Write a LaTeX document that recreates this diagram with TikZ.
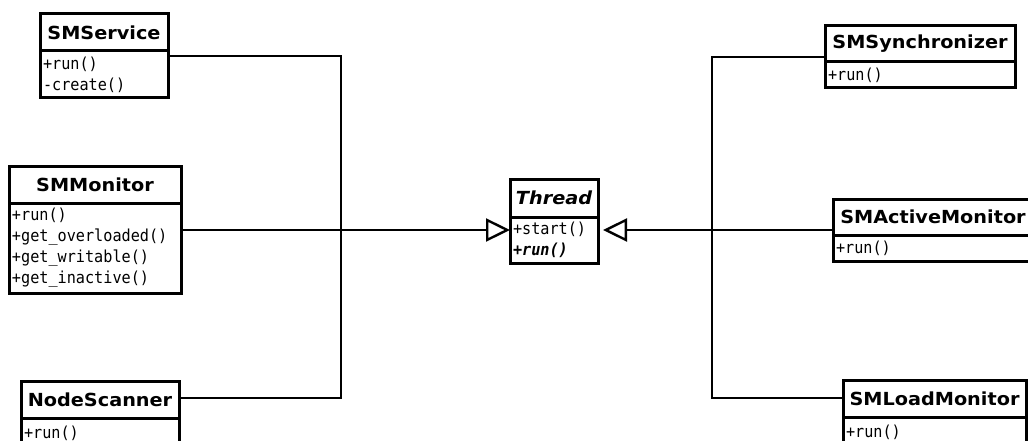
\documentclass[tikz,border=0pt]{standalone}
\usepackage{fontspec}
\newfontfamily\classfont{DejaVu Sans}[FakeStretch=1.07]
\newfontfamily\opsfont{DejaVu Sans Mono}[FakeStretch=0.92]
\usetikzlibrary{arrows.meta, positioning}

\begin{document}
\begin{tikzpicture}[x=1pt, y=-1pt]
  \tikzset{
    hnode/.style={rectangle, draw=black, line width=3pt, outer sep=0pt, inner sep=0pt,
                  minimum height=37pt, text centered, anchor=north west,
                  font=\classfont\bfseries\fontsize{18}{20}\selectfont},
    onode/.style={rectangle, draw=black, line width=3pt, outer sep=0pt,
                  inner xsep=3pt, inner ysep=0pt, align=left,
                  font=\opsfont\fontsize{16.5}{21}\selectfont},
    conn/.style={line width=2.4pt},
    inh/.style={line width=2.4pt, -{Triangle[open, length=24pt, width=23pt]}}
  }
  \useasboundingbox (0,0) rectangle (1028,441);
  \clip (0,0) rectangle (1028,441);
  % Left classes
  \node[hnode, minimum width=128pt] (svc) at (40,14) {SMService};
  \node[onode, below=0pt of svc, text width=122pt, minimum height=47pt] (svcops)
       {+run()\\-create()};
  \node[hnode, minimum width=172pt] (mon) at (9,166) {SMMonitor};
  \node[onode, below=0pt of mon, text width=166pt, minimum height=90pt] (monops)
       {+run()\\+get\_overloaded()\\+get\_writable()\\+get\_inactive()};
  \node[hnode, minimum width=158pt] (scan) at (21,381) {NodeScanner};
  \node[onode, below=0pt of scan, text width=152pt, minimum height=30pt] (scanops)
       {+run()};
  % Base class
  \node[hnode, minimum width=88pt, minimum height=38pt] (thr) at (510,179) {\itshape Thread};
  \node[onode, below=0pt of thr, text width=82pt, minimum height=46pt] (throps)
       {+start()\\\bfseries\itshape +run()};
  % Right classes
  \node[hnode, minimum width=190pt, minimum height=36pt] (sync) at (825,26) {SMSynchronizer};
  \node[onode, below=0pt of sync, text width=184pt, minimum height=26pt] (syncops)
       {+run()};
  \node[hnode, minimum width=200pt, minimum height=36pt] (act) at (833,199) {SMActiveMonitor};
  \node[onode, below=0pt of act, text width=194pt, minimum height=26pt] (actops)
       {+run()};
  \node[hnode, minimum width=183pt] (load) at (843,380) {SMLoadMonitor};
  \node[onode, below=0pt of load, text width=177pt, minimum height=30pt] (loadops)
       {+run()};
  % Trunk corners
  \coordinate (lt) at (341,56);
  \coordinate (lb) at (341,398);
  \coordinate (rt) at (712,57);
  \coordinate (rb) at (712,398);
  \coordinate (mid) at (0,230);
  % Connectors
  \draw[conn] (svcops.east |- lt) -- (lt) -- (lb) -- (scan.east |- lb);
  \draw[conn] (sync.west |- rt) -- (rt) -- (rb) -- (load.west |- rb);
  \draw[inh] (monops.east |- mid) -- (throps.west |- mid);
  \draw[inh, shorten >=5pt] (act.west |- mid) -- (throps.east |- mid);
\end{tikzpicture}
\end{document}
